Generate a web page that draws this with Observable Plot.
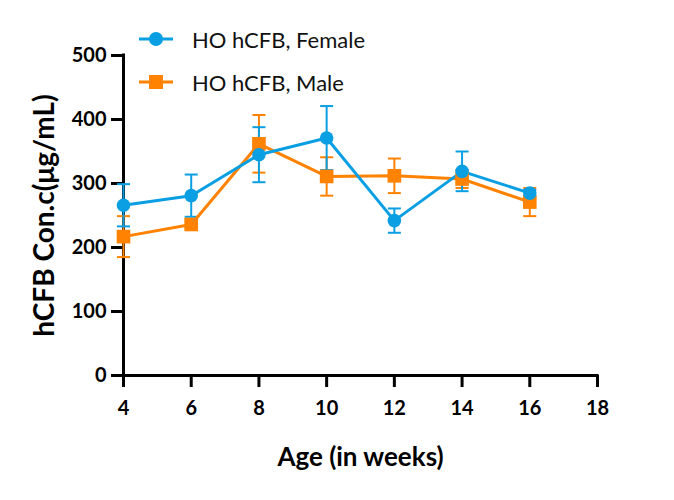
<!DOCTYPE html>
<html>
<head>
<meta charset="utf-8">
<script src="https://cdn.jsdelivr.net/npm/d3@7"></script>
<script src="https://cdn.jsdelivr.net/npm/@observablehq/plot@0.6"></script>
<style>
  body { margin: 0; background: #fff; }
  #wrap { position: relative; width: 674px; height: 500px; font-family: "Lato", sans-serif; }
  .leg { position: absolute; left: 139px; height: 20px; display: flex; align-items: center; font-size: 22px; color: #111; }
  .leg svg { margin-right: 19px; }
</style>
</head>
<body>
<div id="wrap"></div>
<script>
const weeks = [4, 6, 8, 10, 12, 14, 16];
const femaleMean = [266, 281, 345, 371, 242, 319, 285];
const femaleSem = [33, 33, 43, 50, 19, 31, 5];
const maleMean = [217, 236, 362, 311, 312, 307, 271];
const maleSem = [32, 5, 45, 30, 27, 14, 22];
const seriesNames = ["HO hCFB, Female", "HO hCFB, Male"];
const xTicks = [4, 6, 8, 10, 12, 14, 16, 18];
const yTicks = [0, 100, 200, 300, 400, 500];
const xTitle = "Age (in weeks)";
const yTitle = "hCFB Con.c(μg/mL)";

const BLUE = "#0a9fe3";
const ORANGE = "#ff8200";

const female = weeks.map((w, i) => ({week: w, mean: femaleMean[i], lo: femaleMean[i] - femaleSem[i], hi: femaleMean[i] + femaleSem[i]}));
const male = weeks.map((w, i) => ({week: w, mean: maleMean[i], lo: maleMean[i] - maleSem[i], hi: maleMean[i] + maleSem[i]}));

const cap = {
  draw(ctx, size) {
    const w = Math.sqrt(size / Math.PI);
    ctx.moveTo(-w, 0);
    ctx.lineTo(w, 0);
  }
};

function errMarks(data, color) {
  return [
    Plot.ruleX(data, {x: "week", y1: "lo", y2: "hi", stroke: color, strokeWidth: 2}),
    Plot.dot(data, {x: "week", y: "hi", symbol: cap, r: 6.5, stroke: color, strokeWidth: 2, fill: "none"}),
    Plot.dot(data, {x: "week", y: "lo", symbol: cap, r: 6.5, stroke: color, strokeWidth: 2, fill: "none"})
  ];
}

const chart = Plot.plot({
  width: 674,
  height: 500,
  marginLeft: 123,
  marginRight: 77,
  marginTop: 55,
  marginBottom: 125,
  style: {fontFamily: "Lato, sans-serif", fontSize: "20px", fontWeight: "bold", color: "#000", background: "#fff"},
  x: {domain: [4, 18]},
  y: {domain: [0, 500]},
  marks: [
    Plot.axisX(xTicks, {tickSize: 12, tickPadding: 13, strokeWidth: 3, fontSize: 20, fontWeight: "bold", label: null}),
    Plot.axisY(yTicks, {tickSize: 12, tickPadding: 5, strokeWidth: 3, fontSize: 20, fontWeight: "bold", label: null}),
    Plot.ruleX([4], {strokeWidth: 3, strokeLinecap: "square"}),
    Plot.ruleY([0], {strokeWidth: 3, strokeLinecap: "square"}),
    ...errMarks(male, ORANGE),
    ...errMarks(female, BLUE),
    Plot.line(male, {x: "week", y: "mean", stroke: ORANGE, strokeWidth: 3}),
    Plot.line(female, {x: "week", y: "mean", stroke: BLUE, strokeWidth: 3}),
    Plot.dot(male, {x: "week", y: "mean", symbol: "square", r: 7.7, fill: ORANGE, stroke: "none"}),
    Plot.dot(female, {x: "week", y: "mean", symbol: "circle", r: 6.8, fill: BLUE, stroke: "none"}),
    Plot.text([xTitle], {frameAnchor: "bottom", dy: 90, fontSize: 26, fontWeight: "bold", fill: "#000"}),
    Plot.text([yTitle], {frameAnchor: "left", textAnchor: "middle", dx: -78, rotate: -90, fontSize: 28, fontWeight: "bold", fill: "#000"})
  ]
});

const wrap = document.getElementById("wrap");
wrap.appendChild(chart);

const legendItems = [
  {name: seriesNames[0], color: BLUE, shape: "circle", top: 29},
  {name: seriesNames[1], color: ORANGE, shape: "square", top: 72}
];
for (const it of legendItems) {
  const div = document.createElement("div");
  div.className = "leg";
  div.style.top = it.top + "px";
  const marker = it.shape === "circle"
    ? `<circle cx="17" cy="10" r="7" fill="${it.color}"/>`
    : `<rect x="10" y="3" width="14" height="14" fill="${it.color}"/>`;
  div.innerHTML = `<svg width="34" height="20"><line x1="0" x2="34" y1="10" y2="10" stroke="${it.color}" stroke-width="3"/>${marker}</svg><span>${it.name}</span>`;
  wrap.appendChild(div);
}
</script>
</body>
</html>
